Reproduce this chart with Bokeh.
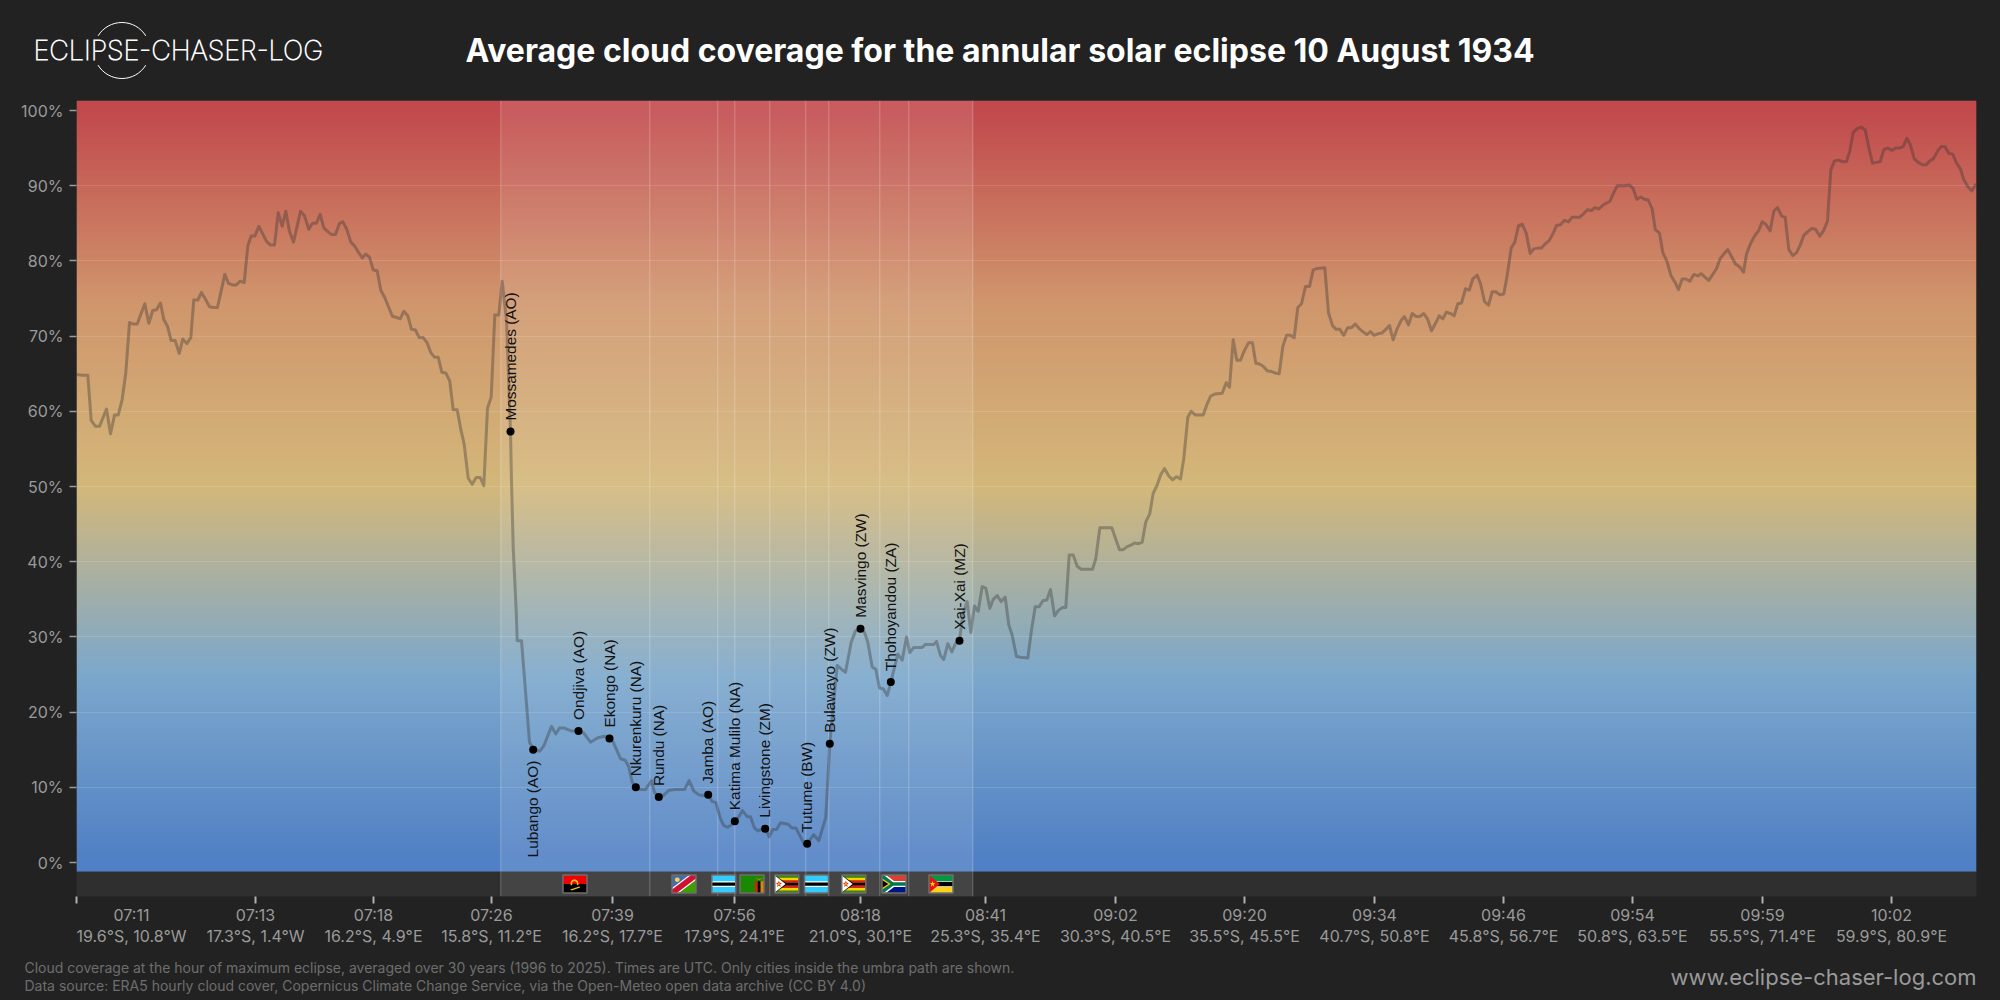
import numpy as np
from bokeh.core.properties import value
from bokeh.embed import file_html
from bokeh.layouts import column, row
from bokeh.models import ColumnDataSource, FixedTicker, Range1d
from bokeh.plotting import figure
from bokeh.resources import INLINE

# ---------------- data ----------------
track_pos = [
    0, 5.7, 11.3, 14.7, 19, 23, 30, 34, 38, 41.7,
    45.7, 49.3, 53, 56.7, 60.7, 68.3, 72.3, 76.3, 80, 84,
    87.3, 91, 94.7, 98.7, 102.7, 106.3, 110.3, 114.3, 117.3, 121.3,
    125, 129, 133, 137, 141, 148.3, 152, 156, 159.7, 163.7,
    167.7, 171.3, 174.7, 178.3, 182.3, 186.3, 190, 194, 198, 201.7,
    205.7, 209.3, 213, 217, 224, 228, 232.3, 236, 239.7, 243.7,
    247.3, 251.3, 255, 259, 263, 266.3, 270.3, 274.3, 278, 281.7,
    285.7, 289.3, 293, 296.7, 300.7, 304.3, 308.3, 312.3, 316, 320,
    323.7, 327.3, 331.3, 335, 339, 342.7, 346.7, 350.7, 354.3, 358,
    361.7, 365.3, 369.3, 373.3, 376.7, 380.7, 384, 387.7, 391.7, 395.7,
    399.7, 403.7, 407.3, 411, 414.7, 418.3, 422.3, 425.7, 430, 434,
    435, 436.7, 439.7, 440.7, 445, 453, 456.7, 463.3, 467.3, 475,
    479.3, 483, 487.3, 494.7, 502, 507.3, 514, 521.3, 528, 533,
    536.7, 544, 548.7, 552.3, 555.7, 559.3, 564, 569, 575, 578,
    582.3, 586.7, 592.3, 599, 608, 612.7, 617.3, 622.3, 626.7, 631.7,
    635.7, 639.3, 644, 647.3, 651, 654.7, 658.3, 662.3, 666, 670.7,
    674, 678, 681.3, 688.7, 692.7, 696.3, 700, 704, 711.7, 715.3,
    719.3, 723.3, 727.3, 730.7, 737.3, 742.3, 749.3, 753.3, 760.7, 765,
    769, 774.7, 779, 784, 788, 791.3, 795.7, 799.3, 803, 806.7,
    810.7, 814.3, 821.3, 825.7, 830, 833.3, 837.3, 845.7, 849, 857.3,
    860, 864, 867.3, 871.3, 875.3, 879, 883, 886.3, 890.7, 894.3,
    898, 901.7, 905.7, 909.3, 913.3, 916.7, 920.7, 924.7, 928.7, 932.3,
    935.7, 940, 944, 951.3, 955, 958.7, 962.7, 966.3, 970.3, 974,
    978, 981.7, 985.7, 989.3, 992.7, 996.7, 1000.7, 1004.7, 1012.3, 1016,
    1019.3, 1023.3, 1035.3, 1043, 1046.7, 1050.7, 1054.3, 1058, 1062, 1065.7,
    1069.3, 1073.3, 1076.7, 1080.7, 1084.3, 1088, 1092.3, 1096, 1100, 1104,
    1107.3, 1111.3, 1114.7, 1119, 1126.7, 1130.7, 1134, 1138.3, 1145.7, 1149.7,
    1153, 1156.7, 1160.3, 1164, 1168, 1172, 1176, 1179.3, 1183, 1186.7,
    1190.7, 1194.7, 1198.3, 1202.7, 1206.3, 1210, 1214, 1217.7, 1221.3, 1225,
    1229, 1233, 1236.7, 1240.7, 1248.3, 1252, 1256, 1259.7, 1263.3, 1267.3,
    1271, 1274.7, 1278.7, 1282.7, 1286.3, 1290.3, 1294, 1297.7, 1301.3, 1305.3,
    1309.3, 1313, 1316.7, 1320.7, 1324.7, 1328, 1332, 1335.7, 1339.7, 1343.3,
    1347.3, 1351, 1355, 1359, 1362.7, 1366.3, 1370, 1374, 1377.7, 1381.3,
    1385, 1389, 1392.7, 1396.3, 1400.7, 1404, 1408, 1412, 1415.7, 1419.3,
    1423.3, 1427.3, 1430.7, 1434.7, 1438.3, 1442, 1445.7, 1449.7, 1453.7, 1457.3,
    1461.3, 1465, 1469, 1472.7, 1476.3, 1480, 1484, 1488, 1492, 1495.7,
    1503, 1507.3, 1511, 1515, 1518.7, 1522.3, 1526.3, 1530, 1533.3, 1537.3,
    1540.7, 1548.3, 1552.7, 1556.7, 1560.3, 1564.3, 1568, 1571.7, 1575.7, 1578.7,
    1583, 1586.3, 1590.3, 1594.3, 1598.3, 1602, 1605.7, 1609.3, 1613.3, 1617.3,
    1621.3, 1624.7, 1628.7, 1632.3, 1636.3, 1640, 1643.7, 1647.7, 1651.3, 1655.3,
    1659, 1663.3, 1667, 1670, 1674, 1678, 1682, 1685.7, 1689.7, 1693.7,
    1697.3, 1701, 1705, 1708.7, 1712.3, 1716.3, 1720, 1723.7, 1727.3, 1731.3,
    1735.3, 1739, 1743.3, 1747, 1751, 1754.3, 1758, 1762.3, 1766, 1770,
    1773.3, 1776.7, 1780.7, 1784.7, 1788.7, 1792.3, 1796, 1800, 1803.7, 1807.3,
    1811.3, 1815.3, 1819, 1822.7, 1826.7, 1830.3, 1834, 1837.7, 1841.7, 1845.7,
    1849.7, 1853.3, 1857, 1861, 1864.7, 1868.3, 1872.3, 1876.3, 1880, 1884,
    1887.3, 1891.3, 1895.3, 1899, 1900,
]
cloud_cover = [
    64.9, 64.8, 64.8, 58.8, 58, 58, 60.3, 57, 59.5, 59.5,
    61.6, 65.1, 71.8, 71.6, 71.6, 74.3, 71.7, 73.4, 73.5, 74.4,
    72.2, 71.3, 69.4, 69.4, 67.7, 69.6, 69, 69.8, 74.8, 74.8,
    75.8, 74.9, 73.9, 73.8, 73.8, 78.2, 77, 76.8, 76.8, 77.3,
    77.1, 82, 83.3, 83.3, 84.6, 83.6, 82.6, 82.1, 82.1, 86.4,
    84.6, 86.6, 83.9, 82.5, 86.6, 86, 84.2, 85, 85, 86.2,
    84.4, 83.9, 83.5, 83.5, 85, 85.2, 84.2, 82.5, 82, 81.2,
    80.4, 80.9, 80.5, 78.8, 78.7, 76.1, 75.1, 73.8, 72.6, 72.5,
    72.3, 73.3, 72.7, 70.9, 70.8, 69.8, 69.8, 69.1, 67.8, 67.2,
    67.2, 65.2, 65.1, 64, 60.2, 60.2, 57.8, 55.6, 51.1, 50.3,
    51.2, 51.2, 50.1, 60.4, 61.9, 72.8, 72.8, 77.3, 72.1, 57.3,
    50.8, 41.9, 33.5, 29.5, 29.5, 16, 15.1, 14.8, 15.5, 18.1,
    17.1, 17.9, 17.9, 17.5, 17.5, 17.2, 16, 16.6, 16.8, 16.5,
    16, 13.8, 13.6, 12.7, 10.7, 10, 9.7, 9.7, 10.9, 9.3,
    8.7, 8.9, 9.6, 9.7, 9.7, 10.9, 9.5, 9, 8.9, 9.1,
    8.1, 8, 5.8, 4.9, 4.7, 5, 5.5, 6.1, 6.9, 6.1,
    6.1, 4.6, 4.2, 4.6, 3.4, 4.4, 4.4, 5.3, 5.1, 4.6,
    4.6, 3.6, 2.5, 2.5, 3.7, 2.9, 6, 15.8, 26.2, 25.7,
    25.3, 29.3, 30.8, 31.1, 30.6, 29.3, 26, 25.7, 23.2, 23.1,
    22.2, 24, 27.7, 26.9, 30, 27.9, 28.6, 28.6, 29, 29,
    29.4, 27.5, 27, 29.1, 28, 29.1, 29.5, 33, 34.7, 30.6,
    34.1, 33.4, 36.7, 36.5, 33.8, 35, 35.5, 34.7, 35.3, 31.6,
    30.2, 27.4, 27.3, 27.2, 30.9, 34, 34, 34.8, 34.9, 36.3,
    32.8, 33.5, 33.9, 33.9, 40.9, 40.9, 39.4, 39, 39, 39,
    40.4, 44.5, 44.5, 41.6, 41.6, 42, 42.2, 42.5, 42.4, 42.6,
    45.3, 46.4, 49.1, 50.2, 51.6, 52.4, 51.4, 50.9, 51.3, 51,
    53.7, 59.2, 60, 59.5, 59.5, 61, 62, 62.3, 62.4, 63.8,
    63.2, 69.5, 66.8, 66.8, 68.1, 69.1, 69.1, 66.4, 66.3, 66,
    65.4, 65.3, 65.1, 65, 68.6, 70.1, 70.1, 69.8, 73.8, 74.3,
    76.6, 76.6, 78.8, 79, 79.1, 73.1, 71.4, 70.9, 70.9, 70.1,
    71.1, 71.1, 71.6, 71, 70.6, 70.2, 70.6, 70.1, 70.3, 70.4,
    70.9, 71.4, 69.5, 71, 72.1, 72.6, 71.5, 73, 72.6, 72.6,
    73, 72.3, 70.7, 71.7, 72.7, 72.3, 73.2, 73, 72.7, 74.3,
    74.4, 76.3, 76.1, 77.6, 78.1, 77, 74.6, 74.1, 75.9, 75.9,
    75.5, 75.6, 78.1, 81.7, 82.5, 84.7, 84.9, 83.7, 81, 81.6,
    81.7, 81.7, 82.3, 82.7, 83.6, 84.7, 84.8, 85.4, 85.2, 85.8,
    85.8, 86.3, 86.8, 86.7, 87.1, 86.9, 87.4, 87.7, 87.9, 89.1,
    90, 90, 90.1, 89.6, 88.2, 88.5, 88.2, 88.1, 86.9, 84.2,
    83.7, 81.1, 80, 78.1, 77.2, 76.2, 77.6, 77.6, 77.3, 78.2,
    78, 78.3, 77.8, 77.4, 78.2, 79, 80.3, 81, 81.5, 80.5,
    79.6, 79.2, 78.5, 80.9, 82.3, 83.3, 84, 85.2, 84.8, 84,
    86.6, 87.1, 86, 85.8, 81.5, 80.7, 81.1, 82.1, 83.4, 83.9,
    84.3, 84.2, 83.3, 84, 85.3, 92.1, 93.3, 93.4, 93.2, 93.2,
    94.6, 97.1, 97.6, 97.8, 97.4, 95.1, 93, 93.1, 93.2, 94.8,
    95, 94.7, 95, 95, 95.2, 96.3, 95.4, 93.6, 93.1, 92.8,
    92.8, 93.3, 93.6, 94.6, 95.2, 95.2, 94.3, 94.2, 93, 92.2,
    90.8, 89.9, 89.3, 90.1, 90,
]

city_names = ["Lubango (AO)", "Mossamedes (AO)", "Ondjiva (AO)", "Ekongo (NA)", "Nkurenkuru (NA)",
              "Rundu (NA)", "Jamba (AO)", "Katima Mulilo (NA)", "Livingstone (ZM)", "Tutume (BW)",
              "Bulawayo (ZW)", "Masvingo (ZW)", "Thohoyandou (ZA)", "Xai-Xai (MZ)"]
city_pos = [456.7, 434, 502, 533, 559.3, 582.3, 631.7, 658.3, 688.7, 730.7, 753.3, 784, 814.3, 883]
city_cover = [15, 57.3, 17.5, 16.5, 10, 8.7, 9, 5.5, 4.5, 2.5, 15.8, 31.1, 24, 29.5]
city_label_below = [True] + [False] * 13

country_bounds = [424.3, 573.3, 641.3, 658.3, 693.3, 729.3, 752.3, 803.3, 832.3, 896.3]
flag_codes = ["AO", "NA", "BW", "ZM", "ZW", "BW", "ZW", "ZA", "MZ"]
flag_pos = [498.5, 607.5, 647.3, 675.5, 710.3, 740, 777.3, 817.5, 864.5]

x_tick_pos = [0, 179, 297, 415, 536, 658, 784, 909, 1039, 1168, 1298, 1427, 1556, 1686, 1815]
x_label_pos = [55] + x_tick_pos[1:]
x_tick_times = ["07:11", "07:13", "07:18", "07:26", "07:39", "07:56", "08:18", "08:41",
                "09:02", "09:20", "09:34", "09:46", "09:54", "09:59", "10:02"]
x_tick_coords = ["19.6°S, 10.8°W", "17.3°S, 1.4°W", "16.2°S, 4.9°E", "15.8°S, 11.2°E", "16.2°S, 17.7°E",
                 "17.9°S, 24.1°E", "21.0°S, 30.1°E", "25.3°S, 35.4°E", "30.3°S, 40.5°E", "35.5°S, 45.5°E",
                 "40.7°S, 50.8°E", "45.8°S, 56.7°E", "50.8°S, 63.5°E", "55.5°S, 71.4°E", "59.9°S, 80.9°E"]
y_ticks = [0, 10, 20, 30, 40, 50, 60, 70, 80, 90, 100]

gradient_stops = [0, 25, 50, 75, 100]
gradient_colors = [(0x50, 0x80, 0xC5), (0x7C, 0xA8, 0xCC), (0xD4, 0xB8, 0x7A), (0xD0, 0x95, 0x6C), (0xC2, 0x4A, 0x4D)]

TITLE = "Average cloud coverage for the annular solar eclipse 10 August 1934"
NOTE_1 = ("Cloud coverage at the hour of maximum eclipse, averaged over 30 years (1996 to 2025). "
          "Times are UTC. Only cities inside the umbra path are shown.")
NOTE_2 = ("Data source: ERA5 hourly cloud cover, Copernicus Climate Change Service, "
          "via the Open-Meteo open data archive (CC BY 4.0)")
URL = "www.eclipse-chaser-log.com"
LOGO = "ECLIPSE-CHASER-LOG"

# ---------------- styling ----------------
BG = "#222222"
FONT = "Inter"
Y_TOP, Y_BOTTOM, Y_STRIP = 101.33, -4.52, -1.2
PX_PER_PCT = 7.52


def bare(width, height, xr, yr):
    f = figure(width=width, height=height, x_range=Range1d(*xr), y_range=Range1d(*yr),
               output_backend="svg", toolbar_location=None, min_border=0,
               background_fill_color=BG, border_fill_color=BG, outline_line_color=None,
               x_axis_location=None, y_axis_location=None)
    f.grid.visible = False
    return f


# ---------------- header ----------------
head = bare(2000, 100, (0, 2000), (0, 100))
head.arc(x=[121.4, 121.4], y=[50, 50], radius=28, start_angle=[0.55, 3.69], end_angle=[2.59, 5.73],
         line_color="white", line_width=1)
head.text(x=[33], y=[50], text=[LOGO], text_font=value("Inter Thin"), text_font_size="27px", text_color="white",
          text_baseline="middle", text_align="left")
head.text(x=[465], y=[50], text=[TITLE], text_font=value(FONT), text_font_style="bold", text_font_size="32px",
          text_color="white", text_baseline="middle", text_align="left")

# ---------------- main chart ----------------
p = figure(width=2000, height=848, x_range=Range1d(0, 1900), y_range=Range1d(Y_BOTTOM, Y_TOP),
           output_backend="svg", toolbar_location=None,
           background_fill_color="#2F2F2F", border_fill_color=BG, outline_line_color=None,
           min_border_left=76, min_border_right=24, min_border_top=0, min_border_bottom=52)

rows = 800
row_pct = np.linspace(Y_STRIP, Y_TOP, rows)
rgb = np.stack([np.interp(row_pct, gradient_stops, [c[i] for c in gradient_colors]) for i in range(3)], axis=1)
img = np.zeros((rows, 2), dtype=np.uint32)
view = img.view(dtype=np.uint8).reshape((rows, 2, 4))
view[:, :, 0] = rgb[:, 0, None]
view[:, :, 1] = rgb[:, 1, None]
view[:, :, 2] = rgb[:, 2, None]
view[:, :, 3] = 255
p.image_rgba(image=[img], x=0, y=Y_STRIP, dw=1900, dh=Y_TOP - Y_STRIP, level="image")

p.quad(left=[country_bounds[0]], right=[country_bounds[-1]], bottom=[Y_BOTTOM], top=[Y_TOP],
       fill_color="white", fill_alpha=0.1, line_color=None)
p.segment(x0=country_bounds, x1=country_bounds, y0=[Y_BOTTOM] * len(country_bounds), y1=[Y_TOP] * len(country_bounds),
          line_color="white", line_alpha=0.25, line_width=1)

p.line(track_pos, cloud_cover, line_color="#333333", line_alpha=0.36, line_width=3, line_join="round")

p.scatter(city_pos, city_cover, marker="circle", size=8, fill_color="black", line_color=None)
city_src = ColumnDataSource(dict(
    x=city_pos, y=city_cover, name=city_names,
    align=["right" if b else "left" for b in city_label_below],
    yoff=[11 if b else -11 for b in city_label_below]))
p.text(x="x", y="y", text="name", source=city_src, angle=90, angle_units="deg", text_align="align",
       text_baseline="middle", y_offset="yoff", x_offset=-0.5, text_font=value("Liberation Sans"),
       text_font_size="15.4px", text_color="#111111")


# flags, drawn in unit coordinates
def ring(cx, cy, rx, ry, n=14):
    t = np.linspace(0, 2 * np.pi, n, endpoint=False)
    return list(cx + rx * np.cos(t)), list(cy + ry * np.sin(t))


def star(cx, cy, rx, ry):
    t = np.pi / 2 + np.arange(10) * np.pi / 5
    r = np.where(np.arange(10) % 2 == 0, 1, 0.4)
    return list(cx + rx * r * np.cos(t)), list(cy + ry * r * np.sin(t))


def band(y0, y1, x0=0, x1=1):
    return [x0, x1, x1, x0], [y0, y0, y1, y1]


def flag_shapes(code):
    if code == "AO":
        t = np.linspace(-0.4, 3.6, 10)
        xo = list(0.48 + 0.17 * np.cos(t)) + list(0.48 + 0.10 * np.cos(t[::-1]))
        yo = list(0.52 + 0.24 * np.sin(t)) + list(0.52 + 0.14 * np.sin(t[::-1]))
        return [("#F00000", *band(0.5, 1)), ("#000000", *band(0, 0.5)), ("#E8C020", xo, yo),
                ("#E8C020", [0.3, 0.36, 0.72, 0.68], [0.2, 0.14, 0.3, 0.36])]
    if code == "NA":
        return [("#3E6CB0", [0, 0, 1], [0, 1, 1]), ("#3EA000", [0, 1, 1], [0, 0, 1]),
                ("#FFFFFF", [0, 0, 0.72, 1, 1, 0.28], [0, 0.28, 1, 1, 0.72, 0]),
                ("#D21034", [0, 0, 0.8, 1, 1, 0.2], [0, 0.2, 1, 1, 0.8, 0]),
                ("#FFD040", *ring(0.22, 0.74, 0.1, 0.13))]
    if code == "BW":
        return [("#33CCFF", *band(0, 1)), ("#FFFFFF", *band(0.34, 0.66)), ("#000000", *band(0.41, 0.59))]
    if code == "ZM":
        return [("#198A00", *band(0, 1)), ("#DE2010", *band(0, 0.66, 0.62, 0.74)),
                ("#000000", *band(0, 0.66, 0.74, 0.86)), ("#EF7D00", *band(0, 0.66, 0.86, 1)),
                ("#EF7D00", [0.62, 0.8, 0.98, 0.8], [0.84, 0.78, 0.84, 0.72])]
    if code == "ZW":
        cols = ["#319208", "#FFD200", "#DE2010", "#000000", "#DE2010", "#FFD200", "#319208"]
        shapes = [(c, *band(i / 7, (i + 1) / 7)) for i, c in enumerate(cols)]
        shapes += [("#000000", [0, 0.52, 0], [0, 0.5, 1]), ("#FFFFFF", [0, 0.45, 0], [0.03, 0.5, 0.97]),
                   ("#DE2010", *star(0.17, 0.5, 0.13, 0.2)), ("#FFD200", *ring(0.17, 0.5, 0.04, 0.06))]
        return shapes
    if code == "ZA":
        return [("#E03C31", *band(0.5, 1)), ("#001489", *band(0, 0.5)),
                ("#FFFFFF", [0, 0.17, 0.5, 1, 1, 0.5, 0.17, 0], [1, 1, 0.67, 0.67, 0.33, 0.33, 0, 0]),
                ("#007A4D", [0, 0.07, 0.46, 1, 1, 0.46, 0.07, 0], [1, 1, 0.6, 0.6, 0.4, 0.4, 0, 0]),
                ("#FFB81C", [0, 0.36, 0], [0.82, 0.5, 0.18]), ("#000000", [0, 0.26, 0], [0.72, 0.5, 0.28])]
    if code == "MZ":
        return [("#009A44", *band(0.67, 1)), ("#FFFFFF", *band(0.33, 0.67)), ("#000000", *band(0.38, 0.62)),
                ("#FCD116", *band(0, 0.33)), ("#E81010", [0, 0.45, 0], [0, 0.5, 1]),
                ("#FCD116", *star(0.15, 0.5, 0.12, 0.18))]
    return []


FLAG_W, FLAG_H, FLAG_Y = 24, 18 / PX_PER_PCT, -2.86
fx, fy, fc = [], [], []
for code, cx in zip(flag_codes, flag_pos):
    for color, us, vs in flag_shapes(code):
        fx.append([cx + (u - 0.5) * FLAG_W for u in us])
        fy.append([FLAG_Y + (v - 0.5) * FLAG_H for v in vs])
        fc.append(color)
p.patches(fx, fy, fill_color=fc, line_color=None)
p.rect(x=flag_pos, y=[FLAG_Y] * len(flag_pos), width=FLAG_W, height=FLAG_H, fill_color=None,
       line_color="#6E6E6E", line_width=1.5)

# axes
p.xgrid.visible = False
p.ygrid.ticker = FixedTicker(ticks=y_ticks[1:-1])
p.ygrid.grid_line_color = "white"
p.ygrid.grid_line_alpha = 0.13
p.ygrid.grid_line_width = 1
p.ygrid.level = "underlay"

p.yaxis.ticker = FixedTicker(ticks=y_ticks)
p.yaxis.major_label_overrides = {v: f"{v}%" for v in y_ticks}
p.yaxis.axis_line_color = None
p.yaxis.major_tick_in = 0
p.yaxis.major_tick_out = 7
p.yaxis.major_tick_line_color = "#9A9A9A"
p.yaxis.major_tick_line_width = 1.5
p.yaxis.minor_tick_line_color = None
p.yaxis.major_label_standoff = 6
p.yaxis.major_label_text_font = FONT
p.yaxis.major_label_text_font_size = "16px"
p.yaxis.major_label_text_color = "#9A9A9A"

# visible tick marks are the axis's minor ticks; labels sit on (invisible) major ticks,
# because the first label is moved inside the frame, away from its tick mark
p.xaxis.ticker = FixedTicker(ticks=x_label_pos, minor_ticks=x_tick_pos)
p.xaxis.axis_line_color = None
p.xaxis.major_tick_line_color = None
p.xaxis.major_tick_in = 0
p.xaxis.major_tick_out = 0
p.xaxis.minor_tick_in = 0
p.xaxis.minor_tick_out = 7
p.xaxis.minor_tick_line_color = "#B0B0B0"
p.xaxis.minor_tick_line_width = 2
p.xaxis.major_label_overrides = {x: f"{t}\n{c}" for x, t, c in zip(x_label_pos, x_tick_times, x_tick_coords)}
p.xaxis.major_label_standoff = 1
p.xaxis.major_label_text_font = FONT
p.xaxis.major_label_text_font_size = "16px"
p.xaxis.major_label_text_color = "#9A9A9A"
p.xaxis.major_label_text_line_height = 1.07

# ---------------- footer ----------------
foot = bare(2000, 52, (0, 2000), (0, 52))
foot.text(x=[24, 24], y=[33.3, 15], text=[NOTE_1, NOTE_2], text_font=value(FONT), text_font_size="14px",
          text_color="#6E6E6E", text_baseline="middle", text_align="left")
foot.text(x=[1976], y=[24], text=[URL], text_font=value(FONT), text_font_size="22px", text_color="#9A9A9A",
          text_baseline="middle", text_align="right")

root = column(row(head), p, row(foot), spacing=0)
style = "<head><style>html,body{background:#222222}</style>"
open("out.html", "w").write(file_html(root, INLINE).replace("<head>", style, 1))
